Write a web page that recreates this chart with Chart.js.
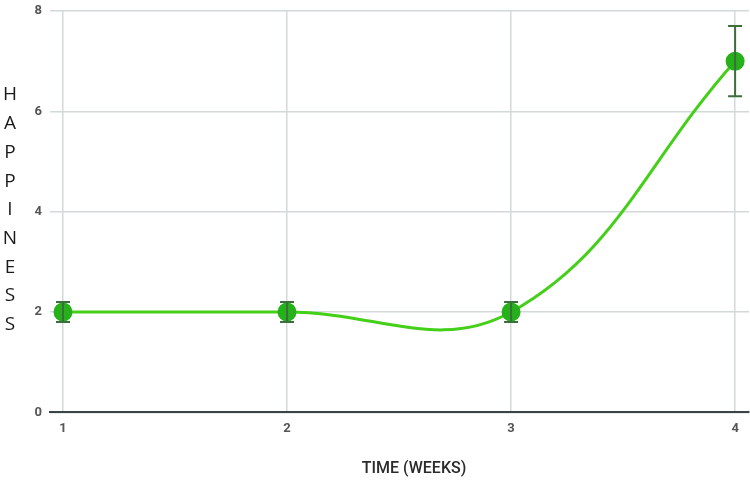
<!DOCTYPE html>
<html>
<head>
<meta charset="utf-8">
<script src="https://cdn.jsdelivr.net/npm/chart.js@4/dist/chart.umd.min.js"></script>
<style>
  html, body { margin: 0; padding: 0; background: #fff; overflow: hidden; }
  #wrap { width: 760px; height: 480px; position: relative; }
</style>
</head>
<body>
<div id="wrap"><canvas id="happyChart"></canvas></div>
<script>
// --- chart data ---
const weeks = [1, 2, 3, 4];
const happiness = [2, 2, 2, 7];
const errorSize = [0.2, 0.2, 0.2, 0.7];
const yTicks = [0, 2, 4, 6, 8];
const xTitle = 'TIME (WEEKS)';
const yTitle = 'HAPPINESS';

// error bars drawn through the scales
const errorBarPlugin = {
  id: 'errorBars',
  afterDatasetsDraw(chart) {
    const { ctx, scales: { x, y } } = chart;
    ctx.save();
    ctx.strokeStyle = '#3d6e3d';
    ctx.lineWidth = 2;
    weeks.forEach((w, i) => {
      const px = x.getPixelForValue(w);
      const top = y.getPixelForValue(happiness[i] + errorSize[i]);
      const bot = y.getPixelForValue(happiness[i] - errorSize[i]);
      ctx.beginPath();
      ctx.moveTo(px, top); ctx.lineTo(px, bot);
      ctx.moveTo(px - 7, top); ctx.lineTo(px + 7, top);
      ctx.moveTo(px - 7, bot); ctx.lineTo(px + 7, bot);
      ctx.stroke();
    });
    ctx.restore();
  }
};

// axis titles: stacked letters on the left, x title under the axis
const axisTitlePlugin = {
  id: 'axisTitles',
  afterDraw(chart) {
    const { ctx } = chart;
    ctx.save();
    ctx.textAlign = 'center';
    ctx.textBaseline = 'middle';
    ctx.fillStyle = '#1a1a1a';
    ctx.font = '400 19px "Open Sans"';
    yTitle.split('').forEach((ch, i) => ctx.fillText(ch, 10, 95 + i * 28.7));
    ctx.fillStyle = '#2b2b2b';
    ctx.font = '500 16px Roboto';
    ctx.fillText(xTitle, 414, 469);
    ctx.restore();
  }
};

new Chart(document.getElementById('happyChart'), {
  type: 'line',
  data: {
    datasets: [{
      data: weeks.map((w, i) => ({ x: w, y: happiness[i] })),
      borderColor: '#44cf18',
      borderWidth: 3,
      tension: 0.4,
      pointRadius: 8,
      pointBackgroundColor: '#26b01a',
      pointBorderColor: '#26b01a',
      fill: false
    }]
  },
  options: {
    responsive: true,
    maintainAspectRatio: false,
    animation: false,
    layout: { padding: { left: 0, right: 0, top: 1, bottom: 34 } },
    plugins: { legend: { display: false }, tooltip: { enabled: false } },
    scales: {
      x: {
        type: 'linear',
        min: 0.942,
        max: 4.062,
        afterBuildTicks: (axis) => { axis.ticks = weeks.map(v => ({ value: v })); },
        afterFit: (axis) => { axis.paddingLeft = 0; axis.paddingRight = 0; },
        grid: { color: '#d3d9d9', lineWidth: 1.5, drawTicks: false },
        border: { color: '#3a4448', width: 2 },
        ticks: { color: '#555', font: { family: 'Roboto', size: 13, weight: 'bold' }, padding: 9 }
      },
      y: {
        min: 0,
        max: 8,
        afterBuildTicks: (axis) => { axis.ticks = yTicks.map(v => ({ value: v })); },
        afterFit: (axis) => { axis.width = 50; axis.paddingTop = 0; axis.paddingBottom = 0; },
        grid: { color: '#d3d9d9', lineWidth: 1.5, drawTicks: false },
        border: { display: false },
        ticks: { color: '#555', font: { family: 'Roboto', size: 13, weight: 'bold' }, padding: 8 }
      }
    }
  },
  plugins: [errorBarPlugin, axisTitlePlugin]
});
</script>
</body>
</html>
